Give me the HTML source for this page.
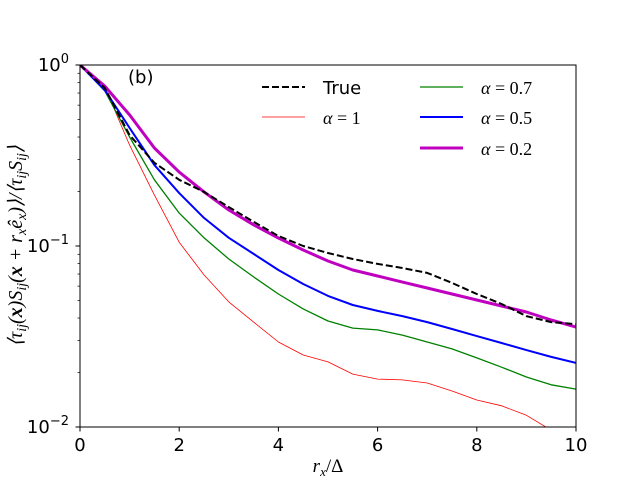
<!DOCTYPE html>
<html><head><meta charset="utf-8"><style>
body{margin:0;background:#fff}
svg{display:block;font-family:"DejaVu Sans","Liberation Sans",sans-serif}
</style></head><body>
<svg id="chart" width="640" height="480">
<defs><clipPath id="clip"><rect x="80" y="65" width="496" height="362"/></clipPath></defs>
<rect x="0" y="0" width="640" height="480" fill="#fff"/>
<g id="series" clip-path="url(#clip)"></g>
<g id="axes"></g>
<text x="128" y="83" font-size="18">(b)</text>
<g>
 <line x1="262" y1="87" x2="305" y2="87" stroke="#000" stroke-width="2" stroke-dasharray="7,3"/>
 <text x="323" y="94" font-size="18">True</text>
 <line x1="262" y1="117" x2="305" y2="117" stroke="red" stroke-width="0.8"/>
 <text x="323" y="124" font-size="18" font-family="Liberation Serif,serif"><tspan font-style="italic">α</tspan> = 1</text>
 <line x1="420" y1="87" x2="463" y2="87" stroke="green" stroke-width="1.3"/>
 <text x="481" y="94" font-size="18" font-family="Liberation Serif,serif"><tspan font-style="italic">α</tspan> = 0.7</text>
 <line x1="420" y1="117" x2="463" y2="117" stroke="blue" stroke-width="2"/>
 <text x="481" y="124" font-size="18" font-family="Liberation Serif,serif"><tspan font-style="italic">α</tspan> = 0.5</text>
 <line x1="420" y1="148" x2="463" y2="148" stroke="#c000c0" stroke-width="3"/>
 <text x="481" y="155" font-size="18" font-family="Liberation Serif,serif"><tspan font-style="italic">α</tspan> = 0.2</text>
</g>
<text x="328" y="472" font-size="19" text-anchor="middle" font-family="Liberation Serif,serif" font-style="italic">r<tspan font-size="13" dy="4">x</tspan><tspan dy="-4" font-style="normal">/Δ</tspan></text>
<text transform="translate(22,246) rotate(-90)" font-size="20" text-anchor="middle" font-family="Liberation Serif,serif" font-style="italic">⟨τ<tspan font-size="14" dy="4">ij</tspan><tspan dy="-4">(</tspan><tspan font-weight="bold">x</tspan>)S<tspan font-size="14" dy="4">ij</tspan><tspan dy="-4">(</tspan><tspan font-weight="bold">x</tspan> + r<tspan font-size="14" dy="4">x</tspan><tspan dy="-4">ê</tspan><tspan font-size="14" dy="4">x</tspan><tspan dy="-4">)⟩/⟨τ</tspan><tspan font-size="14" dy="4">ij</tspan><tspan dy="-4">S</tspan><tspan font-size="14" dy="4">ij</tspan><tspan dy="-4">⟩</tspan></text>
</svg>
<script>
const xs=[0,0.5,1,1.5,2,2.5,3,3.5,4,4.5,5,5.5,6,6.5,7,7.5,8,8.5,9,9.5,10];
const trueVals=[1,0.746,0.41,0.288,0.232,0.199,0.164,0.136,0.1135,0.1,0.0915,0.0848,0.0796,0.0756,0.071,0.0625,0.0543,0.0478,0.041,0.038,0.037];
const alpha1Vals=[1,0.756,0.361,0.191,0.105,0.0692,0.0491,0.038,0.0295,0.025,0.0229,0.0196,0.0184,0.0182,0.0175,0.0158,0.0141,0.0131,0.0116,0.0096,0.008];
const alpha07Vals=[1,0.718,0.40,0.232,0.152,0.111,0.0848,0.0675,0.0543,0.0449,0.0385,0.0352,0.0344,0.0322,0.0295,0.027,0.0241,0.0214,0.0189,0.0171,0.0162];
const alpha05Vals=[1,0.727,0.449,0.28,0.196,0.143,0.111,0.0904,0.0737,0.0617,0.053,0.0472,0.0438,0.041,0.038,0.0348,0.0318,0.0291,0.0266,0.0244,0.0226];
const alpha02Vals=[1,0.765,0.53,0.348,0.256,0.199,0.158,0.131,0.1107,0.095,0.0826,0.0737,0.0683,0.0632,0.0586,0.0543,0.0503,0.0466,0.0432,0.039,0.0357];
const xTicks=[0,2,4,6,8,10];
const yTicks=[1,0.1,0.01];
const yTickLabels=["0","−1","−2"];
const NS="http://www.w3.org/2000/svg";
const X=v=>80+v*49.6;
const Y=v=>65-Math.log10(v)*181;
function mk(t,a,parent){const e=document.createElementNS(NS,t);for(const k in a)e.setAttribute(k,a[k]);parent.appendChild(e);return e;}
const ser=document.getElementById('series');
function line(vals,color,w,dash,name){
  const p=mk('polyline',{points:vals.map((v,i)=>X(xs[i]).toFixed(1)+','+Y(v).toFixed(1)).join(' '),fill:'none',stroke:color,'stroke-width':w,'stroke-linejoin':'round'},ser);
  if(dash)p.setAttribute('stroke-dasharray',dash);
  
  
}
line(alpha1Vals,'red',0.8,null,'series-alpha-1');
line(alpha07Vals,'green',1.3,null,'series-alpha-0.7');
line(alpha05Vals,'blue',2,null,'series-alpha-0.5');
line(alpha02Vals,'#c000c0',3,null,'series-alpha-0.2');
line(trueVals,'#000',2,'7,3','series-true');
const ax=document.getElementById('axes');
const fr=mk('rect',{x:80,y:65,width:496,height:362,fill:'none',stroke:'#000','stroke-width':1},ax);


xTicks.forEach(t=>{
  mk('line',{x1:X(t),x2:X(t),y1:427,y2:431.5,stroke:'#000'},ax);
  const tx=mk('text',{x:X(t),y:451,'font-size':18,'text-anchor':'middle'},ax);
  tx.textContent=t;
  
  
});
yTicks.forEach((t,i)=>{
  const y=Y(t);
  mk('line',{x1:75.5,x2:80,y1:y,y2:y,stroke:'#000'},ax);
  const tx=mk('text',{x:69,y:y+6,'font-size':18,'text-anchor':'end'},ax);
  tx.innerHTML='10<tspan font-size="13" dy="-8">'+yTickLabels[i]+'</tspan>';
  
  
  if(i<yTicks.length-1){for(let m=2;m<=9;m++){const my=Y(yTicks[i+1]*m);mk('line',{x1:77.5,x2:80,y1:my,y2:my,stroke:'#000','stroke-width':0.7},ax);}}
});
</script>
</body></html>
